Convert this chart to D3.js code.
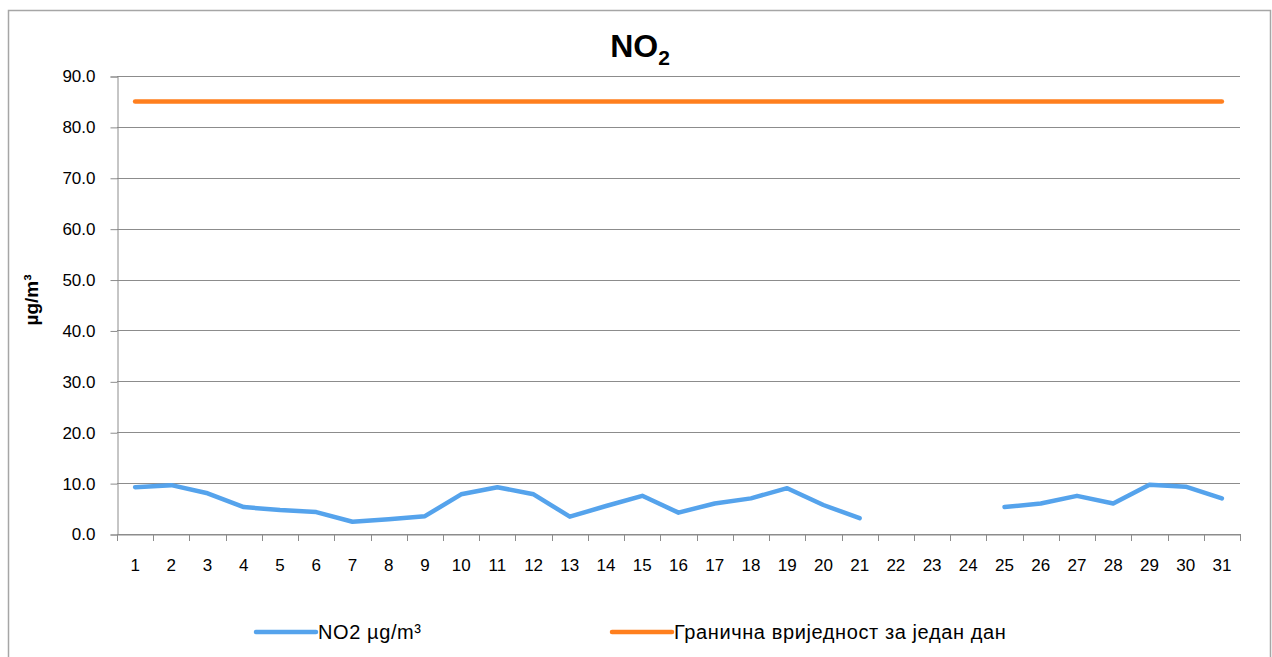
<!DOCTYPE html>
<html>
<head>
<meta charset="utf-8">
<script src="https://cdn.jsdelivr.net/npm/d3@7"></script>
<style>
  body { margin: 0; background: #fff; }
  text { font-family: "Liberation Sans", Arial, sans-serif; }
</style>
</head>
<body>
<svg id="chart"></svg>
<script>
var days = d3.range(1, 32);
var no2 = [9.2, 9.6, 8.0, 5.3, 4.7, 4.3, 2.4, 2.9, 3.5, 7.8,
           9.2, 7.8, 3.4, 5.5, 7.5, 4.2, 6.0, 7.0, 9.0, 5.7,
           3.1, null, null, null, 5.3, 6.0, 7.5, 6.0, 9.7, 9.3, 7.0];
var limit = days.map(function() { return 85; });
var yTicks = [0, 10, 20, 30, 40, 50, 60, 70, 80, 90];

var width = 1272, height = 657;
var plotLeft = 117, plotRight = 1240, plotTop = 76, plotBottom = 534;

var svg = d3.select("#chart").attr("width", width).attr("height", height);

// outer frame
svg.append("rect").attr("x", 8.5).attr("y", 10.5)
    .attr("width", 1262).attr("height", 650)
    .attr("fill", "#fff").attr("stroke", "#a6a6a6").attr("stroke-width", 1.5);

var x = d3.scaleBand().domain(days).range([plotLeft, plotRight]);
var y = d3.scaleLinear().domain([0, 90]).range([plotBottom, plotTop]);

// grid
svg.append("g").selectAll("line").data(yTicks).enter().append("line")
    .attr("x1", plotLeft).attr("x2", plotRight)
    .attr("y1", function(d) { return Math.round(y(d)) + 0.5; })
    .attr("y2", function(d) { return Math.round(y(d)) + 0.5; })
    .attr("stroke", "#8c8c8c").attr("stroke-width", 1);

// y axis
var yAxis = svg.append("g").attr("transform", "translate(" + (plotLeft + 0.5) + ",0.5)")
    .call(d3.axisLeft(y).tickValues(yTicks).tickSize(7).tickPadding(15)
        .tickFormat(function(d) { return d3.format(".1f")(d); }));
yAxis.select(".domain").attr("stroke", "#8c8c8c");
yAxis.selectAll(".tick line").attr("stroke", "#8c8c8c");
yAxis.selectAll("text").attr("fill", "#000").attr("font-size", 17)
    .style("font-family", "'Liberation Sans', Arial, sans-serif");

// x axis
var xAxis = svg.append("g").attr("transform", "translate(0," + (plotBottom + 0.5) + ")")
    .call(d3.axisBottom(x).tickSizeOuter(0).tickSize(0).tickPadding(24));
xAxis.select(".domain").attr("stroke", "#8c8c8c");
xAxis.selectAll("text").attr("fill", "#000").attr("font-size", 17)
    .style("font-family", "'Liberation Sans', Arial, sans-serif");
// tick marks between categories
svg.append("g").selectAll("line").data(days.concat([32])).enter().append("line")
    .attr("x1", function(d) { return Math.round(d === 32 ? plotRight : x(d)) + 0.5; })
    .attr("x2", function(d) { return Math.round(d === 32 ? plotRight : x(d)) + 0.5; })
    .attr("y1", plotBottom).attr("y2", plotBottom + 7)
    .attr("stroke", "#8c8c8c");

var cx = function(d, i) { return x(days[i]) + x.bandwidth() / 2; };

// limit line
svg.append("path").datum(limit)
    .attr("fill", "none").attr("stroke", "#ff7f1e").attr("stroke-width", 4.5)
    .attr("stroke-linecap", "round")
    .attr("d", d3.line().x(cx).y(function(d) { return y(d); }));

// NO2 line
svg.append("path").datum(no2)
    .attr("fill", "none").attr("stroke", "#55a3ec").attr("stroke-width", 4.5)
    .attr("stroke-linecap", "round").attr("stroke-linejoin", "round")
    .attr("d", d3.line().defined(function(d) { return d !== null; })
        .x(cx).y(function(d) { return y(d); }));

// title
var title = svg.append("text").attr("x", 640).attr("y", 57)
    .attr("text-anchor", "middle").attr("font-size", 32).attr("font-weight", "bold");
title.append("tspan").text("NO");
title.append("tspan").text("2").attr("font-size", 21).attr("dy", 8);

// y label
svg.append("text").attr("transform", "translate(38,300) rotate(-90)")
    .attr("text-anchor", "middle").attr("font-size", 19).attr("font-weight", "bold")
    .text("µg/m³");

// legend
var legend = [
  { label: "NO2 µg/m³", color: "#55a3ec", x: 256 },
  { label: "Гранична вриједност за један дан", color: "#ff7f1e", x: 612 }
];
var lg = svg.append("g").selectAll("g").data(legend).enter().append("g")
    .attr("transform", function(d) { return "translate(" + d.x + ",632)"; });
lg.append("line").attr("x1", 0).attr("x2", 60).attr("y1", 0).attr("y2", 0)
    .attr("stroke", function(d) { return d.color; }).attr("stroke-width", 4.5)
    .attr("stroke-linecap", "round");
lg.append("text").attr("x", 62).attr("y", 7).attr("font-size", 20)
    .attr("letter-spacing", 0.6)
    .text(function(d) { return d.label; });
</script>
</body>
</html>
